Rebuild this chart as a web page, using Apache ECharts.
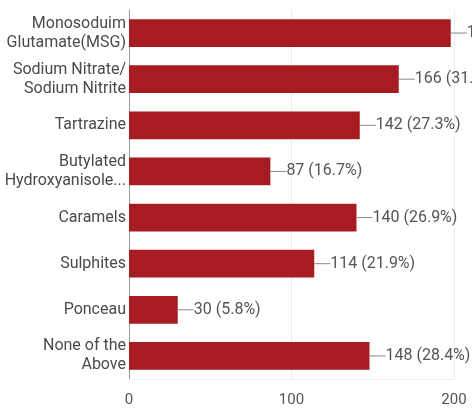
<!DOCTYPE html>
<html>
<head>
<meta charset="utf-8">
<script src="https://cdn.jsdelivr.net/npm/echarts@6/dist/echarts.min.js"></script>
<style>
  html, body { margin: 0; padding: 0; background: #fff; }
  #chart { width: 472px; height: 408px; }
</style>
</head>
<body>
<div id="chart"></div>
<script>
// Additives named by respondents (multiple answers allowed)
const categories = [
  'Monosoduim\nGlutamate(MSG)',
  'Sodium Nitrate/\nSodium Nitrite',
  'Tartrazine',
  'Butylated\nHydroxyanisole...',
  'Caramels',
  'Sulphites',
  'Ponceau',
  'None of the\nAbove'
];
const counts = [198, 166, 142, 87, 140, 114, 30, 148];
const respondents = 521;
const xTicks = [0, 100, 200];

const chart = echarts.init(document.getElementById('chart'));
chart.setOption({
  animation: false,
  grid: { left: 129, right: 18, top: 10, bottom: 29 },
  xAxis: {
    type: 'value',
    min: xTicks[0],
    max: xTicks[xTicks.length - 1],
    interval: xTicks[1] - xTicks[0],
    axisLine: { show: true, lineStyle: { color: '#eeeeee' } },
    axisTick: { show: false },
    splitLine: { lineStyle: { color: '#ececec' } },
    axisLabel: { color: '#555', fontSize: 15, fontFamily: 'Roboto', margin: 14 }
  },
  yAxis: {
    type: 'category',
    data: categories,
    inverse: true,
    axisLine: { lineStyle: { color: '#999' } },
    axisTick: { show: false },
    axisLabel: { color: '#4a4a4a', fontSize: 16, fontFamily: 'Roboto', lineHeight: 19, margin: 3 }
  },
  series: [{
    type: 'bar',
    data: counts,
    barWidth: '60%',
    itemStyle: { color: '#a61c22' },
    label: {
      show: true,
      position: 'right',
      distance: 0,
      formatter: p => '{ln|}' + p.value + ' (' + (p.value / respondents * 100).toFixed(1) + '%)',
      color: '#555',
      fontSize: 16,
      fontFamily: 'Roboto',
      rich: {
        ln: { width: 16, height: 1, backgroundColor: '#888' }
      }
    }
  }]
});
</script>
</body>
</html>
